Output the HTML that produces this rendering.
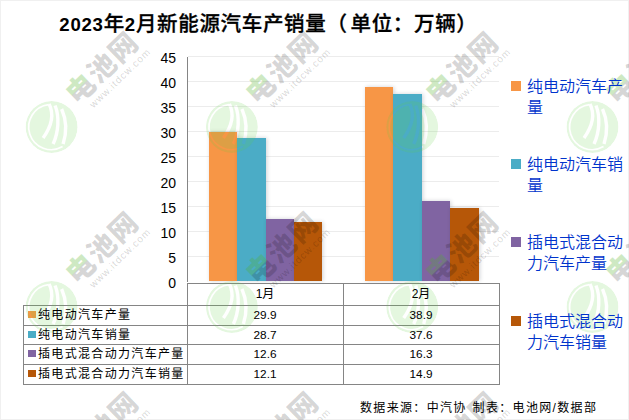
<!DOCTYPE html>
<html><head><meta charset="utf-8">
<style>
*{margin:0;padding:0;box-sizing:border-box}
html,body{width:629px;height:420px;overflow:hidden;background:#fff}
body{position:relative;font-family:"Liberation Sans","Noto Sans CJK SC",sans-serif}
.frame{position:absolute;left:0;top:0;width:629px;height:420px;border:1px solid #f0f0f0}
.abs{position:absolute;white-space:nowrap}
.title{left:59.3px;top:9px;font-size:20.5px;font-weight:500;letter-spacing:0.66px;-webkit-text-stroke:0.3px #000;color:#000;line-height:30px}
.title .d{font-size:18.6px;font-weight:bold;letter-spacing:0.75px;-webkit-text-stroke:0}
.ylab{position:absolute;right:0;width:40px;text-align:right;font-size:14px;line-height:16px;color:#000}
.grid{position:absolute;left:188px;width:311px;height:1px;background:#ececec}
.axis{position:absolute;left:187px;top:57px;width:1px;height:225px;background:#858585}
.bar{position:absolute;box-shadow:1px 0 4px rgba(40,50,70,0.22)}
.o{background:#f79646}.b{background:#4bacc6}.p{background:#8064a2}.r{background:#b65708}
.hl{position:absolute;height:1px;background:#858585}
.vl{position:absolute;width:1px;background:#858585}
.cell{position:absolute;z-index:2;font-size:12px;letter-spacing:1.33px;line-height:20px;color:#000;font-family:"Liberation Sans","Noto Sans CJK SC",sans-serif}
.val{position:absolute;z-index:2;width:156px;text-align:center;font-size:11.8px;line-height:20px;color:#000}
.sq{position:absolute;width:7.6px;height:7.4px}
.lsq{position:absolute;left:511px;width:10px;height:10px}
.leg{position:absolute;z-index:2;left:527px;margin-top:1px;font-size:16px;font-weight:350;line-height:21.3px;color:#0033cc;width:100px;white-space:normal}
.foot{z-index:2;left:360px;top:398px;font-size:12px;letter-spacing:1.33px;line-height:20px;color:#000}
.wm{position:absolute;left:0;top:0;z-index:1;pointer-events:none}
.wt{font-family:"Noto Sans CJK SC",sans-serif;font-weight:900;font-size:28px;letter-spacing:1.5px;fill:#000;fill-opacity:0.16;text-anchor:middle;dominant-baseline:central}
.wt .g{fill:#6aa84f;fill-opacity:0.25}
.ww{font-family:"Liberation Sans",sans-serif;font-size:10px;letter-spacing:1px;fill:#000;fill-opacity:0.17;text-anchor:middle;dominant-baseline:central}
</style></head><body>
<div class="frame"></div>

<div class="abs title"><span class="d">2023</span>年<span class="d">2</span>月新能源汽车产销量<span style="letter-spacing:3.6px">（</span>单位：万辆）</div>

<!-- gridlines -->
<div class="grid" style="top:56px"></div>
<div class="grid" style="top:81px"></div>
<div class="grid" style="top:106px"></div>
<div class="grid" style="top:131px"></div>
<div class="grid" style="top:156px"></div>
<div class="grid" style="top:181px"></div>
<div class="grid" style="top:206px"></div>
<div class="grid" style="top:231px"></div>
<div class="grid" style="top:256px"></div>
<div class="axis"></div>

<!-- y labels -->
<div style="position:absolute;left:136px;top:2px;width:40px;height:300px">
<div class="ylab" style="top:48px">45</div>
<div class="ylab" style="top:73px">40</div>
<div class="ylab" style="top:98px">35</div>
<div class="ylab" style="top:123px">30</div>
<div class="ylab" style="top:148px">25</div>
<div class="ylab" style="top:173px">20</div>
<div class="ylab" style="top:198px">15</div>
<div class="ylab" style="top:223px">10</div>
<div class="ylab" style="top:248px">5</div>
<div class="ylab" style="top:273px">0</div>
</div>

<!-- bars -->
<div class="bar o" style="left:209px;top:132px;width:28px;height:149px"></div>
<div class="bar b" style="left:237px;top:138px;width:29px;height:143px"></div>
<div class="bar p" style="left:266px;top:219px;width:28px;height:62px"></div>
<div class="bar r" style="left:294px;top:222px;width:28px;height:59px"></div>
<div class="bar o" style="left:365px;top:87px;width:28px;height:194px"></div>
<div class="bar b" style="left:393px;top:94px;width:29px;height:187px"></div>
<div class="bar p" style="left:422px;top:201px;width:28px;height:80px"></div>
<div class="bar r" style="left:450px;top:208px;width:29px;height:73px"></div>

<!-- table -->
<div class="hl" style="left:187px;top:283px;width:313px"></div>
<div class="hl" style="left:23px;top:305px;width:477px"></div>
<div class="hl" style="left:23px;top:325px;width:477px"></div>
<div class="hl" style="left:23px;top:344px;width:477px"></div>
<div class="hl" style="left:23px;top:364px;width:477px"></div>
<div class="hl" style="left:23px;top:384px;width:477px"></div>
<div class="vl" style="left:23px;top:305px;height:80px"></div>
<div class="vl" style="left:187px;top:283px;height:102px"></div>
<div class="vl" style="left:343px;top:283px;height:102px"></div>
<div class="vl" style="left:499px;top:283px;height:102px"></div>

<div class="val" style="left:187px;top:284px;font-size:12px">1月</div>
<div class="val" style="left:343px;top:284px;font-size:12px">2月</div>

<div class="sq o" style="left:28px;top:311px"></div>
<div class="cell" style="left:38px;top:305px">纯电动汽车产量</div>
<div class="val" style="left:187px;top:305px">29.9</div>
<div class="val" style="left:343px;top:305px">38.9</div>

<div class="sq b" style="left:28px;top:331px"></div>
<div class="cell" style="left:38px;top:325px">纯电动汽车销量</div>
<div class="val" style="left:187px;top:325px">28.7</div>
<div class="val" style="left:343px;top:325px">37.6</div>

<div class="sq p" style="left:28px;top:350px"></div>
<div class="cell" style="left:38px;top:344px">插电式混合动力汽车产量</div>
<div class="val" style="left:187px;top:344px">12.6</div>
<div class="val" style="left:343px;top:344px">16.3</div>

<div class="sq r" style="left:28px;top:370px"></div>
<div class="cell" style="left:38px;top:364px">插电式混合动力汽车销量</div>
<div class="val" style="left:187px;top:364px">12.1</div>
<div class="val" style="left:343px;top:364px">14.9</div>

<!-- legend -->
<div class="lsq o" style="top:81px"></div>
<div class="leg" style="top:75px">纯电动汽车产量</div>
<div class="lsq b" style="top:159px"></div>
<div class="leg" style="top:153px">纯电动汽车销量</div>
<div class="lsq p" style="top:237px"></div>
<div class="leg" style="top:231px">插电式混合动力汽车产量</div>
<div class="lsq r" style="top:316px"></div>
<div class="leg" style="top:310px">插电式混合动力汽车销量</div>

<div class="abs foot">数据来源：中汽协<span style="letter-spacing:2.6px"> </span>制表：电池网/数据部</div>
<svg class="wm" width="629" height="420" viewBox="0 0 629 420">
<defs><mask id="lm" maskUnits="userSpaceOnUse" x="-30" y="-30" width="60" height="60"><circle r="26" fill="#fff"/><path d="M11,19.6 A22.6,22.6 0 1 1 -3,-22.4" fill="none" stroke="#000" stroke-width="1.7"/><path d="M-2.5,-23 C1.5,-15 1.5,-3 -8.5,11 M3.5,-21.5 C8,-10 7,5 1.5,17 M10,-18 C15,-7 15,6 11.5,17" fill="none" stroke="#000" stroke-width="3.4"/></mask><linearGradient id="gg" x1="0" y1="0" x2="0" y2="1"><stop offset="0.5" stop-color="#50b028" stop-opacity="0.28"/><stop offset="0.55" stop-color="#000" stop-opacity="0.16"/></linearGradient></defs>
<circle transform="translate(51.6,127)" r="26" fill="#5ed040" fill-opacity="0.17" mask="url(#lm)"/>
<text transform="translate(101,66) rotate(-44)" class="wt"><tspan fill="url(#gg)" fill-opacity="1">电</tspan>池网</text>
<text transform="translate(120,78) rotate(-44)" class="ww">www.itdcw.com</text>
<circle transform="translate(231.9,127)" r="26" fill="#5ed040" fill-opacity="0.17" mask="url(#lm)"/>
<text transform="translate(281,66) rotate(-44)" class="wt"><tspan fill="url(#gg)" fill-opacity="1">电</tspan>池网</text>
<text transform="translate(300,78) rotate(-44)" class="ww">www.itdcw.com</text>
<circle transform="translate(412.2,127)" r="26" fill="#5ed040" fill-opacity="0.17" mask="url(#lm)"/>
<text transform="translate(461,66) rotate(-44)" class="wt"><tspan fill="url(#gg)" fill-opacity="1">电</tspan>池网</text>
<text transform="translate(480,78) rotate(-44)" class="ww">www.itdcw.com</text>
<circle transform="translate(592.5,127)" r="26" fill="#5ed040" fill-opacity="0.17" mask="url(#lm)"/>
<text transform="translate(641,66) rotate(-44)" class="wt"><tspan fill="url(#gg)" fill-opacity="1">电</tspan>池网</text>
<text transform="translate(660,78) rotate(-44)" class="ww">www.itdcw.com</text>
<circle transform="translate(51.6,307)" r="26" fill="#5ed040" fill-opacity="0.17" mask="url(#lm)"/>
<text transform="translate(101,246) rotate(-44)" class="wt"><tspan fill="url(#gg)" fill-opacity="1">电</tspan>池网</text>
<text transform="translate(120,258) rotate(-44)" class="ww">www.itdcw.com</text>
<circle transform="translate(231.9,307)" r="26" fill="#5ed040" fill-opacity="0.17" mask="url(#lm)"/>
<text transform="translate(281,246) rotate(-44)" class="wt"><tspan fill="url(#gg)" fill-opacity="1">电</tspan>池网</text>
<text transform="translate(300,258) rotate(-44)" class="ww">www.itdcw.com</text>
<circle transform="translate(412.2,307)" r="26" fill="#5ed040" fill-opacity="0.17" mask="url(#lm)"/>
<text transform="translate(461,246) rotate(-44)" class="wt"><tspan fill="url(#gg)" fill-opacity="1">电</tspan>池网</text>
<text transform="translate(480,258) rotate(-44)" class="ww">www.itdcw.com</text>
<circle transform="translate(592.5,307)" r="26" fill="#5ed040" fill-opacity="0.17" mask="url(#lm)"/>
<text transform="translate(641,246) rotate(-44)" class="wt"><tspan fill="url(#gg)" fill-opacity="1">电</tspan>池网</text>
<text transform="translate(660,258) rotate(-44)" class="ww">www.itdcw.com</text>
<text transform="translate(101,426) rotate(-44)" class="wt"><tspan fill="url(#gg)" fill-opacity="1">电</tspan>池网</text>
<text transform="translate(120,438) rotate(-44)" class="ww">www.itdcw.com</text>
<text transform="translate(281,426) rotate(-44)" class="wt"><tspan fill="url(#gg)" fill-opacity="1">电</tspan>池网</text>
<text transform="translate(300,438) rotate(-44)" class="ww">www.itdcw.com</text>
<text transform="translate(461,426) rotate(-44)" class="wt"><tspan fill="url(#gg)" fill-opacity="1">电</tspan>池网</text>
<text transform="translate(480,438) rotate(-44)" class="ww">www.itdcw.com</text>
<text transform="translate(641,426) rotate(-44)" class="wt"><tspan fill="url(#gg)" fill-opacity="1">电</tspan>池网</text>
<text transform="translate(660,438) rotate(-44)" class="ww">www.itdcw.com</text>
</svg>
</body></html>
